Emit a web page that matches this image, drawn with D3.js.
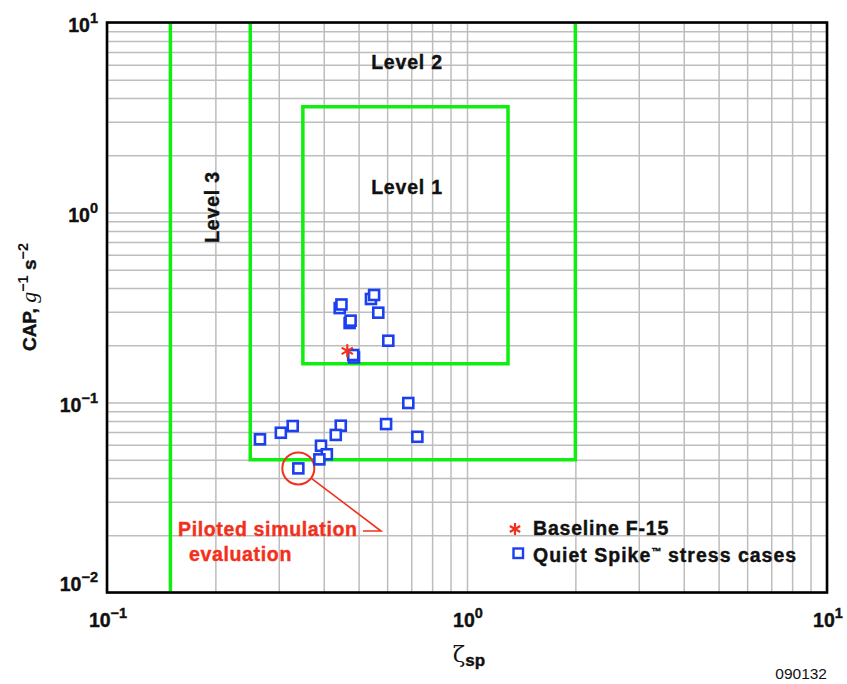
<!DOCTYPE html>
<html>
<head>
<meta charset="utf-8">
<script src="https://cdn.jsdelivr.net/npm/d3@7"></script>
<style>
  html, body { margin: 0; padding: 0; background: #fff; }
  svg { display: block; }
  text { font-family: "Liberation Sans", Arial, Helvetica, sans-serif; }
  text.heavy { stroke-width: 0.4px; paint-order: stroke; }
</style>
</head>
<body>
<svg id="chart" width="847" height="684"></svg>
<script>
// Short-period damping ratio (zeta_sp) and CAP for the Quiet Spike stress cases
const stressZeta = [0.266, 0.304, 0.328, 0.340, 0.446, 0.432, 0.393, 0.408, 0.389,
                    0.596, 0.728, 0.687, 0.443, 0.448, 0.472, 0.475, 0.541, 0.552,
                    0.567, 0.6045, 0.4855, 0.483];
const stressCap  = [0.064, 0.0693, 0.0752, 0.045, 0.0755, 0.0675, 0.0592, 0.0534, 0.0502,
                    0.077, 0.066, 0.0994, 0.314, 0.328, 0.262, 0.2696, 0.3505, 0.368,
                    0.297, 0.2114, 0.1726, 0.1778];

// Baseline F-15
const baselineZeta = [0.465];
const baselineCap  = [0.187];

// Flying-quality level boundaries
const level3Zeta = [0.15];
const level2Zeta = [0.25, 2.0];
const level2Cap  = [0.05, 10];
const level1Zeta = [0.35, 1.3];
const level1Cap  = [0.16, 3.6];

// Decade tick exponents
const xTickExps = [-1, 0, 1];
const yTickExps = [-2, -1, 0, 1];

const svg = d3.select("#chart");
const plotL = 107, plotR = 827, plotT = 22.5, plotB = 592.5;

const x = d3.scaleLog().domain([0.1, 10]).range([plotL, plotR]);
const y = d3.scaleLog().domain([0.01, 10]).range([plotB, plotT]);

const gridColor = "#bdbdbd";
const green = "#10ee10";
const blue = "#1c3ff0";
const red = "#f2301c";
const ink = "#111";

// Grid lines from the log axes
const gx = svg.append("g")
  .attr("transform", `translate(0,${plotB})`)
  .call(d3.axisBottom(x).tickSize(-(plotB - plotT)).tickFormat(""));
const gy = svg.append("g")
  .attr("transform", `translate(${plotL},0)`)
  .call(d3.axisLeft(y).tickSize(-(plotR - plotL)).tickFormat(""));
[gx, gy].forEach(g => {
  g.select(".domain").remove();
  g.selectAll(".tick line").attr("stroke", gridColor).attr("stroke-width", 1.5);
});

// Level boundaries
const lineGen = d3.line().x(d => x(d[0])).y(d => y(d[1]));
const bounds = svg.append("g").attr("fill", "none").attr("stroke", green)
  .attr("stroke-width", 3.5).attr("stroke-linejoin", "miter");
bounds.append("path").attr("d", lineGen([[level3Zeta[0], 10], [level3Zeta[0], 0.01]]));
bounds.append("path").attr("d", lineGen([
  [level2Zeta[0], level2Cap[1]], [level2Zeta[0], level2Cap[0]],
  [level2Zeta[1], level2Cap[0]], [level2Zeta[1], level2Cap[1]]]));
bounds.append("path").attr("d", lineGen([
  [level1Zeta[0], level1Cap[0]], [level1Zeta[0], level1Cap[1]],
  [level1Zeta[1], level1Cap[1]], [level1Zeta[1], level1Cap[0]], [level1Zeta[0], level1Cap[0]]]))
  .attr("stroke-linecap", "square");

// Bold label styling
const boldText = (sel, color = ink, spacing = 0.8) => sel.attr("class", "heavy")
  .attr("font-size", 19.5).attr("font-weight", "bold")
  .attr("letter-spacing", spacing).attr("fill", color).attr("stroke", color);

// Level labels
svg.append("text").attr("x", 407).attr("y", 69).attr("text-anchor", "middle").text("Level 2").call(boldText);
svg.append("text").attr("x", 407).attr("y", 194).attr("text-anchor", "middle").text("Level 1").call(boldText);
svg.append("text").attr("transform", "translate(219,207) rotate(-90)")
  .attr("text-anchor", "middle").text("Level 3").call(boldText);

// Frame
svg.append("rect").attr("x", plotL).attr("y", plotT)
  .attr("width", plotR - plotL).attr("height", plotB - plotT)
  .attr("fill", "none").attr("stroke", "#000").attr("stroke-width", 2.6);

// Piloted simulation callout
const simZeta = stressZeta[3], simCap = stressCap[3];
const cx = x(simZeta), cy = y(simCap), r = 16;
svg.append("circle").attr("cx", cx).attr("cy", cy).attr("r", r)
  .attr("fill", "none").attr("stroke", red).attr("stroke-width", 2);
const ang = Math.atan2(531 - cy, 381 - cx);
svg.append("polyline")
  .attr("points", [[cx + r * Math.cos(ang), cy + r * Math.sin(ang)], [381, 531], [363, 531]].map(p => p.join(",")).join(" "))
  .attr("fill", "none").attr("stroke", red).attr("stroke-width", 1.6);
svg.append("text").attr("x", 178).attr("y", 536).text("Piloted simulation").call(boldText, red, 0.65);
svg.append("text").attr("x", 189).attr("y", 561).text("evaluation").call(boldText, red, 0.65);

// Stress-case squares
const sq = 10;
svg.append("g").selectAll("rect").data(d3.zip(stressZeta, stressCap)).join("rect")
  .attr("x", d => x(d[0]) - sq / 2).attr("y", d => y(d[1]) - sq / 2)
  .attr("width", sq).attr("height", sq)
  .attr("fill", "#fff").attr("stroke", blue).attr("stroke-width", 2.6);

// Asterisk marker
function asterisk(s) {
  const p = d3.path();
  for (const a of [90, 30, -30]) {
    const t = a * Math.PI / 180;
    p.moveTo(-s * Math.cos(t), -s * Math.sin(t));
    p.lineTo(s * Math.cos(t), s * Math.sin(t));
  }
  return p.toString();
}
svg.append("g").selectAll("path").data(d3.zip(baselineZeta, baselineCap)).join("path")
  .attr("transform", d => `translate(${x(d[0])},${y(d[1])})`)
  .attr("d", asterisk(6.5)).attr("stroke", red).attr("stroke-width", 2.2).attr("fill", "none");

// Legend
svg.append("path").attr("transform", "translate(515,529)").attr("d", asterisk(6))
  .attr("stroke", red).attr("stroke-width", 2.2).attr("fill", "none");
svg.append("rect").attr("x", 513.5).attr("y", 548.5).attr("width", 9.5).attr("height", 9.5)
  .attr("fill", "#fff").attr("stroke", blue).attr("stroke-width", 2.4);
svg.append("text").attr("x", 533).attr("y", 535).text("Baseline F-15").call(boldText);
const leg2 = svg.append("text").attr("x", 533).attr("y", 562).call(boldText, ink, 1.0);
leg2.append("tspan").text("Quiet Spike");
leg2.append("tspan").attr("dy", -7).attr("font-size", 10).attr("letter-spacing", 0.3).text("\u2122");
leg2.append("tspan").attr("dy", 7).text(" stress cases");

// Decade tick labels
function powerLabel(sel, e) {
  sel.append("tspan").text("10");
  sel.append("tspan").attr("dy", -9).attr("font-size", 14.5).text(e < 0 ? "\u2212" + (-e) : String(e));
}
svg.append("g").selectAll("text").data(xTickExps).join("text")
  .attr("x", e => x(Math.pow(10, e)) + 1).attr("y", 627)
  .attr("text-anchor", "middle").call(boldText, ink, 0)
  .each(function (e) { powerLabel(d3.select(this), e); });
svg.append("g").selectAll("text").data(yTickExps).join("text")
  .attr("x", 98).attr("y", e => Math.min(y(Math.pow(10, e)) + 9, 591))
  .attr("text-anchor", "end").call(boldText, ink, 0)
  .each(function (e) { powerLabel(d3.select(this), e); });

// Axis titles
const xt = svg.append("text").attr("x", 469).attr("y", 662).attr("text-anchor", "middle").attr("fill", ink);
xt.append("tspan").attr("font-family", "DejaVu Serif, serif").attr("font-size", 23).text("\u03b6");
xt.append("tspan").attr("dy", 4).attr("font-size", 17).attr("font-weight", "bold")
  .attr("stroke", ink).attr("stroke-width", 0.4).text("sp");

const yt = svg.append("text").attr("transform", "translate(36,297) rotate(-90)")
  .attr("text-anchor", "middle").attr("fill", ink).attr("font-size", 19).attr("font-weight", "bold");
yt.append("tspan").attr("stroke", ink).attr("stroke-width", 0.4).text("CAP, ");
yt.append("tspan").attr("font-family", "Liberation Serif, serif").attr("font-style", "italic")
  .attr("font-weight", "normal").attr("font-size", 22).text("g");
yt.append("tspan").attr("dy", -8).attr("font-size", 14.5).text("\u22121");
yt.append("tspan").attr("dy", 8).attr("stroke", ink).attr("stroke-width", 0.4).text(" s");
yt.append("tspan").attr("dy", -8).attr("font-size", 14.5).text("\u22122");

// Figure number
svg.append("text").attr("x", 827).attr("y", 679).attr("text-anchor", "end")
  .attr("font-size", 15.5).attr("fill", ink).text("090132");
</script>
</body>
</html>
